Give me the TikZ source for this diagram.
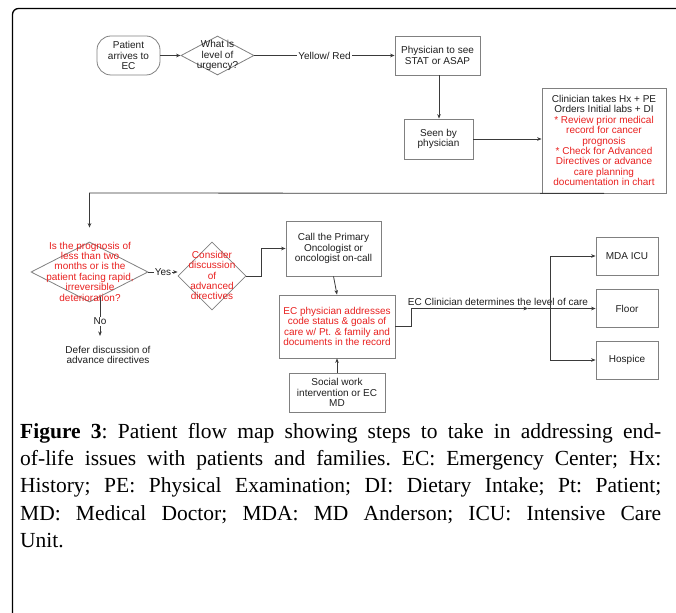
\documentclass[tikz,border=0pt]{standalone}
\usepackage{fontspec}
\setmainfont{Liberation Serif}
\setsansfont{Liberation Sans}
\usetikzlibrary{shapes.geometric,arrows.meta}
\definecolor{boxgray}{HTML}{808080}
\definecolor{linegray}{HTML}{3A3A3A}
\definecolor{txtred}{HTML}{E8201F}
\definecolor{txtdark}{HTML}{1E1E1E}
\newcommand\dfont{\sffamily\fontsize{10}{10.4}\selectfont}
\tikzset{
  pbox/.style={draw=boxgray, line width=0.8pt, inner sep=0pt, align=center, font=\dfont, text=txtdark},
  dshape/.style={draw=boxgray, line width=0.8pt, diamond, inner sep=0pt},
  dtext/.style={inner sep=0pt, align=center, font=\dfont},
  conn/.style={draw=linegray, line width=0.8pt},
  arr/.style={conn, -{Stealth[length=4.5pt,width=3.6pt]}},
  lbl/.style={inner sep=1pt, fill=white, font=\dfont, text=txtdark}
}
\begin{document}
\begin{tikzpicture}[x=1pt,y=-1pt]
\useasboundingbox (0,0) rectangle (676,612);
% outer frame
\draw[line width=1.3pt, rounded corners=6pt] (700,8.5) -- (12.5,8.5) -- (12.5,630);

% row 1
\node[pbox, minimum width=63pt, minimum height=39pt, rounded corners=14pt] (pt) at (128.5,55.5) {Patient\\arrives to\\EC};
\node[dshape, minimum width=73pt, minimum height=39pt] (urg) at (217.5,55.5) {};
\node[dtext, text=txtdark] (urgt) at (217.5,55.5) {What is\\level of\\urgency?};
\node[pbox, minimum width=85pt, minimum height=39pt] (phys) at (437.5,55.5) {Physician to see\\STAT or ASAP};
\node[pbox, minimum width=69pt, minimum height=40pt] (seen) at (438.5,139) {Seen by\\physician};
\node[pbox, minimum width=124pt, minimum height=105pt] (clin) at (604,140.5) {Clinician takes Hx + PE\\Orders Initial labs + DI\\
  \textcolor{txtred}{* Review prior medical}\\\textcolor{txtred}{record for cancer}\\\textcolor{txtred}{prognosis}\\
  \textcolor{txtred}{* Check for Advanced}\\\textcolor{txtred}{Directives or advance}\\\textcolor{txtred}{care planning}\\
  \textcolor{txtred}{documentation in chart}};

% row 2
\node[dshape, minimum width=117pt, minimum height=60pt] (d1) at (89.5,272) {};
\node[dtext, text=txtred] (d1t) at (90,271.5) {Is the prognosis of\\less than two\\months or is the\\patient facing rapid,\\irreversible\\deterioration?};
\node[dshape, minimum width=68pt, minimum height=68pt] (d2) at (212,276) {};
\node[dtext, text=txtred] (d2t) at (212,275.5) {Consider\\discussion\\of\\advanced\\directives};
\node[dtext, text=txtdark] (defer) at (108,355) {Defer discussion of\\advance directives};
\node[pbox, minimum width=95pt, minimum height=55pt] (call) at (333.5,248.5) {Call the Primary\\Oncologist or\\oncologist on-call};
\node[pbox, minimum width=116pt, minimum height=63pt, text=txtred] (ec) at (337,326.5) {EC physician addresses\\code status \& goals of\\care w/ Pt. \& family and\\documents in the record};
\node[pbox, minimum width=96pt, minimum height=39pt] (sw) at (337,392.5) {Social work\\intervention or EC\\MD};
\node[pbox, minimum width=62pt, minimum height=38pt] (icu) at (627,256) {MDA ICU};
\node[pbox, minimum width=62pt, minimum height=38pt] (floor) at (627,308.5) {Floor};
\node[pbox, minimum width=62pt, minimum height=38pt] (hosp) at (627,360) {Hospice};

% coordinates
\coordinate (c1) at (261,276);
\coordinate (c2) at (411,326.5);
\coordinate (c3) at (411,308.5);
\coordinate (mid) at (528,308.5);
\coordinate (br) at (550,308.5);
\coordinate (no1) at (100,297);
\coordinate (row) at (89.5,193);

% connectors
\draw[arr] (pt) -- (urg);
\draw[arr] (urg.east) -- node[lbl]{Yellow/ Red} (phys.west);
\draw[arr] (phys.south -| 439,0) -- (seen.north -| 439,0);
\draw[arr] (seen.east) -- (seen.east -| clin.west);
\draw[arr, shorten >=14pt] (clin.south) -- (row) -- (d1.north);
\draw[arr] (d1.east) -- node[lbl, pos=0.5]{Yes} (d1.east -| d2.west);
\draw[arr, shorten >=10pt] (no1) -- node[lbl, pos=0.5]{No} (no1 |- defer.north);
\draw[arr] (d2.east) -- (c1) |- (call.west);
\draw[arr] (call.south) -- (ec.north);
\draw[arr] (sw.north) -- (ec.south);
\draw[conn] (ec.east) -- (c2) -- (c3);
\draw[arr] (c3) -- (mid);
\draw[arr] (mid) -- (floor.west);
\node[font=\dfont, text=txtdark, anchor=base] (lvl) at (498,305.5) {EC Clinician determines the level of care};
\draw[arr] (br) |- (icu.west);
\draw[arr] (br) |- (hosp.west);

% caption
\node[anchor=north west, inner sep=0pt, text width=641pt, align=justify, font=\fontsize{21.5}{27.3}\selectfont\frenchspacing] (cap) at (20,423)
{\textbf{Figure 3}: Patient flow map showing steps to take in addressing end-\linebreak
of-life issues with patients and families. EC: Emergency Center; Hx:\linebreak
History; PE: Physical Examination; DI: Dietary Intake; Pt: Patient;\linebreak
MD: Medical Doctor; MDA: MD Anderson; ICU: Intensive Care\linebreak
Unit.};
\end{tikzpicture}
\end{document}
